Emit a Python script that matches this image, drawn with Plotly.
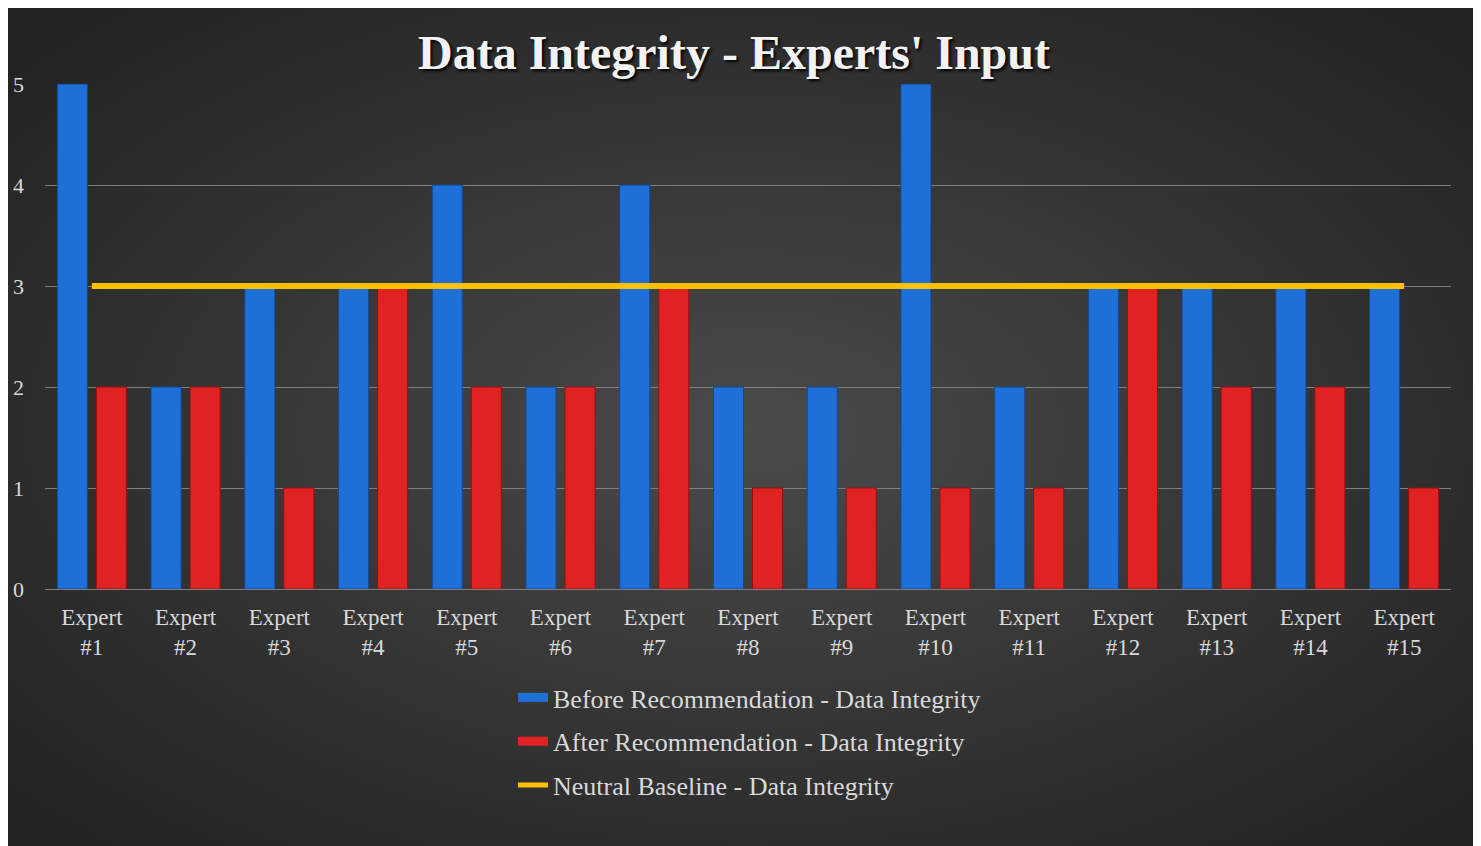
import base64
import plotly.graph_objects as go

experts = ["Expert<br>#%d" % i for i in range(1, 16)]
before = [5, 2, 3, 3, 4, 2, 4, 2, 2, 5, 2, 3, 3, 3, 3]
after = [2, 2, 1, 3, 2, 2, 3, 1, 1, 1, 1, 3, 2, 2, 1]
baseline = [3, 3, 3, 3, 3, 3, 3, 3, 3, 3, 3, 3, 3, 3, 3]

names = ["Before Recommendation - Data Integrity",
         "After Recommendation - Data Integrity",
         "Neutral Baseline - Data Integrity"]

W, H = 1481, 846

# radial gradient backdrop like the office chart style
svg = """<svg xmlns='http://www.w3.org/2000/svg' width='1481' height='846'>
<defs><radialGradient id='g' cx='50%' cy='50%' r='65%'>
<stop offset='0%' stop-color='#4a4a4a'/>
<stop offset='100%' stop-color='#232323'/>
</radialGradient></defs>
<rect width='1481' height='846' fill='url(#g)'/></svg>"""
bg_src = "data:image/svg+xml;base64," + base64.b64encode(svg.encode()).decode()

fig = go.Figure()
fig.add_trace(go.Bar(
    x=experts, y=before, name=names[0], showlegend=False,
    marker_color="#1f6fd8", marker_line_color="#14498f", marker_line_width=1,
    legendgroup="a",
))
fig.add_trace(go.Bar(
    x=experts, y=after, name=names[1], showlegend=False,
    marker_color="#e02222", marker_line_color="#961010", marker_line_width=1,
    legendgroup="b",
))
fig.add_trace(go.Scatter(
    x=experts, y=baseline, name=names[2], showlegend=False,
    mode="lines", line=dict(color="#ffc000", width=6),
    legendgroup="c",
))
# wide legend keys like the original
for nm, col, grp, w in [(names[0], "#1f6fd8", "a", 9), (names[1], "#e02222", "b", 9),
                        (names[2], "#ffc000", "c", 5)]:
    fig.add_trace(go.Scatter(x=[None], y=[None], name=nm, mode="lines",
                             line=dict(color=col, width=w), legendgroup=grp))

fig.update_layout(
    width=W, height=H,
    margin=dict(l=0, r=0, t=0, b=0, autoexpand=False),
    paper_bgcolor="#2a2a2a",
    plot_bgcolor="rgba(0,0,0,0)",
    barmode="group", bargap=0.167, bargroupgap=0.23,
    font=dict(family="Liberation Serif", color="#d9d9d9", size=20),
    title=dict(
        text="<b>Data Integrity - Experts' Input</b>",
        x=726 / W, xanchor="center", y=1 - 44 / H, yanchor="middle",
        font=dict(family="Liberation Serif", size=48, color="#f2f2f2",
                  shadow="2px 2px 3px black"),
    ),
    legend=dict(
        x=505 / W, xanchor="left", y=1 - 666 / H, yanchor="top",
        font=dict(size=26, color="#d9d9d9"),
        tracegroupgap=7, bgcolor="rgba(0,0,0,0)",
    ),
    images=[dict(
        source=bg_src, xref="paper", yref="paper",
        x=0, y=1, sizex=1, sizey=1,
        xanchor="left", yanchor="top", sizing="stretch", layer="below",
    )],
)
fig.update_xaxes(
    domain=[37 / W, 1443 / W], showgrid=False, showline=False,
    tickfont=dict(size=23), ticks="", ticklabelstandoff=12,
)
fig.update_yaxes(
    domain=[1 - 581 / H, 1 - 76 / H], range=[0, 5], dtick=1,
    showgrid=True, gridcolor="#7f7f7f", gridwidth=1,
    zeroline=True, zerolinecolor="#7f7f7f", zerolinewidth=1,
    tickfont=dict(size=22), ticklabelstandoff=20,
)

fig.write_html("out.html")
